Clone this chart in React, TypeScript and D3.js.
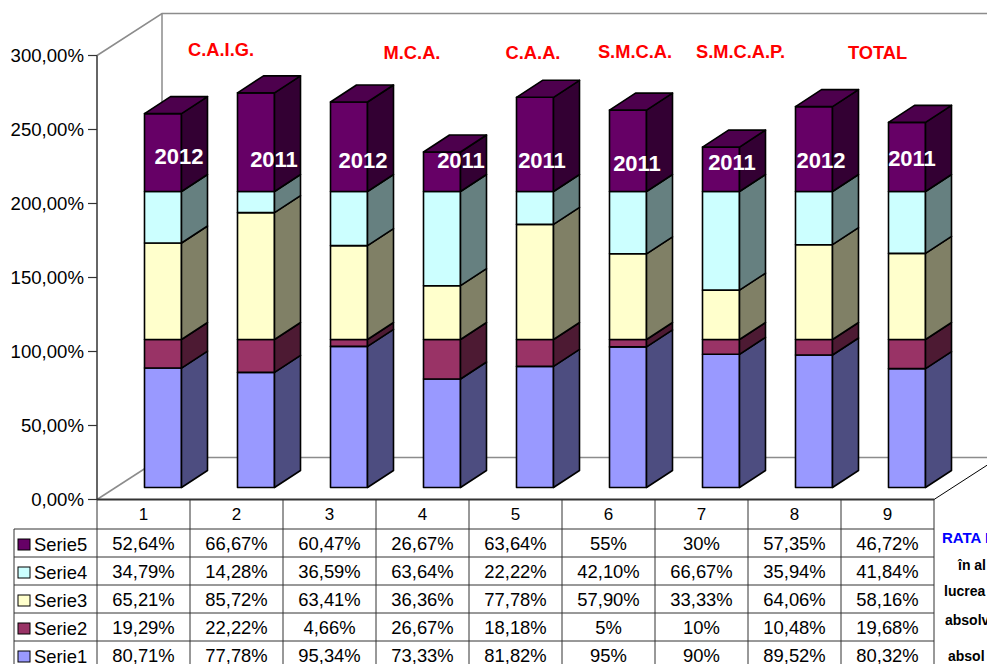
import React from "react";
import * as d3 from "d3";

const categories = ["1", "2", "3", "4", "5", "6", "7", "8", "9"];
const serie1 = [80.71, 77.78, 95.34, 73.33, 81.82, 95, 90, 89.52, 80.32];
const serie2 = [19.29, 22.22, 4.66, 26.67, 18.18, 5, 10, 10.48, 19.68];
const serie3 = [65.21, 85.72, 63.41, 36.36, 77.78, 57.9, 33.33, 64.06, 58.16];
const serie4 = [34.79, 14.28, 36.59, 63.64, 22.22, 42.1, 66.67, 35.94, 41.84];
const serie5 = [52.64, 66.67, 60.47, 26.67, 63.64, 55, 30, 57.35, 46.72];
const serie1Labels = ["80,71%", "77,78%", "95,34%", "73,33%", "81,82%", "95%", "90%", "89,52%", "80,32%"];
const serie2Labels = ["19,29%", "22,22%", "4,66%", "26,67%", "18,18%", "5%", "10%", "10,48%", "19,68%"];
const serie3Labels = ["65,21%", "85,72%", "63,41%", "36,36%", "77,78%", "57,90%", "33,33%", "64,06%", "58,16%"];
const serie4Labels = ["34,79%", "14,28%", "36,59%", "63,64%", "22,22%", "42,10%", "66,67%", "35,94%", "41,84%"];
const serie5Labels = ["52,64%", "66,67%", "60,47%", "26,67%", "63,64%", "55%", "30%", "57,35%", "46,72%"];
const seriesNames = ["Serie1", "Serie2", "Serie3", "Serie4", "Serie5"];
const frontColors = ["#9999FF", "#993366", "#FFFFCC", "#CCFFFF", "#660066"];
const sideColors = ["#4D4D80", "#4D1A33", "#808066", "#668080", "#330033"];
const topColors = ["#7373BF", "#73264D", "#BFBF99", "#99BFBF", "#4D004D"];
const yTicks = [0, 50, 100, 150, 200, 250, 300];
const yearLabels = [
  { text: "2012", x: 179, y: 164 },
  { text: "2011", x: 274, y: 167 },
  { text: "2012", x: 363, y: 168 },
  { text: "2011", x: 461, y: 168 },
  { text: "2011", x: 542, y: 168 },
  { text: "2011", x: 637, y: 171 },
  { text: "2011", x: 732, y: 170 },
  { text: "2012", x: 821, y: 168 },
  { text: "2011", x: 912, y: 166 },
];
const groupLabels = [
  { text: "C.A.I.G.", x: 221, y: 56 },
  { text: "M.C.A.", x: 412, y: 59 },
  { text: "C.A.A.", x: 533, y: 59 },
  { text: "S.M.C.A.", x: 635, y: 58 },
  { text: "S.M.C.A.P.", x: 740.5, y: 58 },
  { text: "TOTAL", x: 877.5, y: 59 },
];
const sideNotes = [
  { text: "RATA DE", x: 942, y: 543, color: "#0000FF" },
  { text: "în al", x: 958, y: 570, color: "#000" },
  { text: "lucrea", x: 944, y: 596, color: "#000" },
  { text: "absolv", x: 945, y: 625, color: "#000" },
  { text: "absol", x: 948, y: 661, color: "#000" },
];

const font = "'Liberation Sans', Arial, sans-serif";

export default function App() {
  const x = d3.scaleBand<string>().domain(categories).range([97, 934]);
  const y = d3.scaleLinear().domain([0, 300]).range([499.5, 55.5]);
  const dx = 65, dy = 42; // wall depth
  const bx = 26, by = 17; // bar depth
  const floorDx = 19.5, floorDy = 12; // bar offset into floor
  const barW = 37;
  const rows = [serie5Labels, serie4Labels, serie3Labels, serie2Labels, serie1Labels];
  const rowY = d3.range(0, 6).map((i) => 529 + i * 28);
  const stack = d3.stack<number>()
    .keys(["0", "1", "2", "3", "4"])
    .value((i, k) => [serie1, serie2, serie3, serie4, serie5][+k][i])(d3.range(categories.length));
  const legendColors = [...frontColors].reverse();
  const legendNames = [...seriesNames].reverse();

  return (
    <svg width={987} height={664} style={{ position: "fixed", left: 0, top: 0, background: "#fff" }} fontFamily={font}>
      {/* walls */}
      <g fill="none" stroke="#8c8c8c" strokeWidth={1.5}>
        <path d={`M${x.range()[0]},${y(300)}L${x.range()[0] + dx},${y(300) - dy}H987`} />
        <path d={`M${97 + dx},${y(300) - dy}V${y(0) - dy}H987`} />
        <path d={`M97,${y(0)}L${97 + dx},${y(0) - dy}`} />
      </g>
      <path d={`M934,${y(0)}L${934 + dx},${y(0) - dy}`} stroke="#000" strokeWidth={1} fill="none" />

      {/* bars */}
      {categories.map((c, i) => {
        const left = (x(c) as number) + x.bandwidth() / 2 - barW / 2 + floorDx;
        return (
          <g key={c} stroke="#000" strokeWidth={1.6} strokeLinejoin="round">
            {stack.map((s, si) => {
              const y0 = y(s[i][0]) - floorDy;
              const y1 = y(s[i][1]) - floorDy;
              const r = left + barW;
              return (
                <g key={si}>
                  <rect x={left} y={y1} width={barW} height={y0 - y1} fill={frontColors[si]} />
                  <path d={`M${r},${y0}L${r + bx},${y0 - by}V${y1 - by}L${r},${y1}Z`} fill={sideColors[si]} />
                  {si === 4 && <path d={`M${left},${y1}L${left + bx},${y1 - by}H${r + bx}L${r},${y1}Z`} fill={topColors[si]} />}
                </g>
              );
            })}
          </g>
        );
      })}

      {/* y axis */}
      <line x1={97} x2={97} y1={y(300)} y2={y(0)} stroke="#333" strokeWidth={1.5} />
      {yTicks.map((t) => (
        <g key={t}>
          <line x1={88} x2={97} y1={y(t)} y2={y(t)} stroke="#333" strokeWidth={1.2} />
          <text x={84} y={y(t) + 6.5} textAnchor="end" fontSize={18.6} fill="#000">
            {d3.format(".2f")(t).replace(".", ",")}%
          </text>
        </g>
      ))}

      {/* table */}
      <g stroke="#333" strokeWidth={1} fill="none">
        <line x1={97} x2={934} y1={y(0)} y2={y(0)} strokeWidth={2} />
        {rowY.slice(0, 5).map((ry) => (
          <line key={ry} x1={14} x2={934} y1={ry} y2={ry} />
        ))}
        <line x1={14} x2={14} y1={529} y2={664} />
        {categories.map((c) => (
          <line key={c} x1={x(c) as number} x2={x(c) as number} y1={499} y2={664} />
        ))}
        <line x1={934} x2={934} y1={499} y2={664} />
      </g>
      {categories.map((c) => (
        <text key={c} x={(x(c) as number) + x.bandwidth() / 2} y={520} textAnchor="middle" fontSize={17} fill="#000">{c}</text>
      ))}
      {rows.map((row, ri) => (
        <g key={ri}>
          <rect x={18} y={rowY[ri] + 10} width={12} height={11} fill={legendColors[ri]} stroke="#000" strokeWidth={1} />
          <text x={34} y={rowY[ri] + 21.5} fontSize={18.4} fill="#000">{legendNames[ri]}</text>
          {row.map((v, ci) => (
            <text key={ci} x={(x(categories[ci]) as number) + x.bandwidth() / 2} y={rowY[ri] + 21} textAnchor="middle" fontSize={18.4} fill="#000">{v}</text>
          ))}
        </g>
      ))}

      {/* overlays */}
      {yearLabels.map((l, i) => (
        <text key={i} x={l.x} y={l.y} textAnchor="middle" fontSize={22} fontWeight="bold" fill="#fff">{l.text}</text>
      ))}
      {groupLabels.map((l, i) => (
        <text key={i} x={l.x} y={l.y} textAnchor="middle" fontSize={18.3} fontWeight="bold" fill="#FF0000">{l.text}</text>
      ))}
      {sideNotes.map((l, i) => (
        <text key={i} x={l.x} y={l.y} fontSize={i === 0 ? 15 : 14} fontWeight="bold" fill={l.color}>{l.text}</text>
      ))}
    </svg>
  );
}
